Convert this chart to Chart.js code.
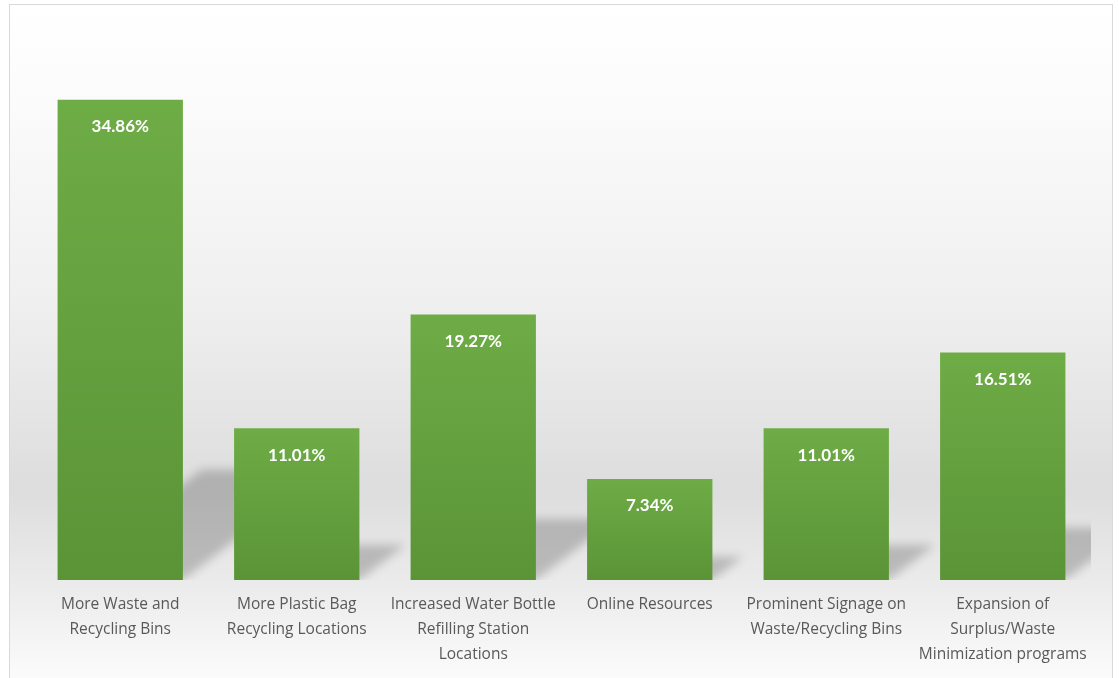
<!DOCTYPE html>
<html>
<head>
<meta charset="utf-8">
<script src="https://cdn.jsdelivr.net/npm/chart.js@4.4.0/dist/chart.umd.min.js"></script>
<style>
  body { margin: 0; background: #ffffff; }
  #wrap { width: 1119px; height: 678px; }
</style>
</head>
<body>
<div id="wrap"><canvas id="bar-chart" width="1119" height="678"></canvas></div>
<script>
var labelName = [
  ["More Waste and", "Recycling Bins"],
  ["More Plastic Bag", "Recycling Locations"],
  ["Increased Water Bottle", "Refilling Station", "Locations"],
  ["Online Resources"],
  ["Prominent Signage on", "Waste/Recycling Bins"],
  ["Expansion of", "Surplus/Waste", "Minimization programs"]
];
var percentValues = [34.86, 11.01, 19.27, 7.34, 11.01, 16.51];
var yMax = 40;

// card background with the grey band behind the bars
var cardBackground = {
  id: 'cardBackground',
  beforeDraw: function (chart) {
    var ctx = chart.ctx;
    ctx.save();
    ctx.fillStyle = '#ffffff';
    ctx.fillRect(0, 0, chart.width, chart.height);
    var g = ctx.createLinearGradient(0, 4, 0, chart.height);
    g.addColorStop(0, '#ffffff');
    g.addColorStop(0.15, '#fbfbfb');
    g.addColorStop(0.45, '#efefef');
    g.addColorStop(0.72, '#dddddd');
    g.addColorStop(0.86, '#ebebeb');
    g.addColorStop(1, '#fbfbfb');
    ctx.fillStyle = g;
    ctx.fillRect(9, 4, 1103, chart.height);
    ctx.strokeStyle = '#d9d9d9';
    ctx.lineWidth = 1;
    ctx.strokeRect(9.5, 4.5, 1103, chart.height + 10);
    ctx.restore();
  }
};

// perspective shadow behind each bar
var barShadows = {
  id: 'barShadows',
  beforeDatasetsDraw: function (chart) {
    var ctx = chart.ctx, area = chart.chartArea;
    var meta = chart.getDatasetMeta(0);
    ctx.save();
    ctx.beginPath();
    ctx.rect(area.left, area.top, area.right - area.left, area.bottom - area.top);
    ctx.clip();
    ctx.filter = 'blur(5px)';
    ctx.fillStyle = 'rgba(0,0,0,0.2)';
    meta.data.forEach(function (bar) {
      var p = bar.getProps(['x', 'y', 'base', 'width'], true);
      var h = p.base - p.y;
      var l = p.x - p.width / 2, r = p.x + p.width / 2;
      var dx = h * 0.3, dy = h * 0.23;
      ctx.beginPath();
      ctx.moveTo(l + 4, p.base);
      ctx.lineTo(r, p.base);
      ctx.lineTo(r + dx, p.base - dy);
      ctx.lineTo(l + dx, p.base - dy);
      ctx.closePath();
      ctx.fill();
    });
    ctx.restore();
  }
};

// white value labels inside the top of the bars
var valueLabels = {
  id: 'valueLabels',
  afterDatasetsDraw: function (chart) {
    var ctx = chart.ctx;
    var meta = chart.getDatasetMeta(0);
    ctx.save();
    ctx.fillStyle = '#ffffff';
    ctx.font = 'bold 17px Lato';
    ctx.textAlign = 'center';
    ctx.textBaseline = 'middle';
    meta.data.forEach(function (bar, i) {
      var p = bar.getProps(['x', 'y'], true);
      ctx.fillText(percentValues[i].toFixed(2) + '%', p.x, p.y + 27);
    });
    ctx.restore();
  }
};

new Chart(document.getElementById('bar-chart'), {
  type: 'bar',
  data: {
    labels: labelName,
    datasets: [
      {
        label: 'Share of responses',
        data: percentValues,
        backgroundColor: function (c) {
          var chart = c.chart;
          if (!chart.chartArea || c.type !== 'data') return '#64a13e';
          var yScale = chart.scales.y;
          var top = yScale.getPixelForValue(c.raw);
          var base = yScale.getPixelForValue(0);
          var g = chart.ctx.createLinearGradient(0, top, 0, base);
          g.addColorStop(0, '#6eac46');
          g.addColorStop(1, '#5b9437');
          return g;
        },
        borderWidth: 0,
        barPercentage: 0.71,
        categoryPercentage: 1
      }
    ]
  },
  options: {
    responsive: false,
    animation: false,
    devicePixelRatio: 1,
    layout: { padding: { top: 29, left: 32, right: 28, bottom: 0 } },
    plugins: {
      legend: { display: false },
      tooltip: { enabled: false }
    },
    scales: {
      x: {
        grid: { display: false, drawTicks: false },
        border: { display: false },
        ticks: {
          color: '#595959',
          padding: 12,
          maxRotation: 0,
          autoSkip: false,
          font: { family: 'Open Sans', size: 15.5, lineHeight: 1.62 }
        },
        afterFit: function (scale) { scale.height = 98; }
      },
      y: {
        display: false,
        min: 0,
        max: yMax
      }
    }
  },
  plugins: [cardBackground, barShadows, valueLabels]
});
</script>
</body>
</html>
